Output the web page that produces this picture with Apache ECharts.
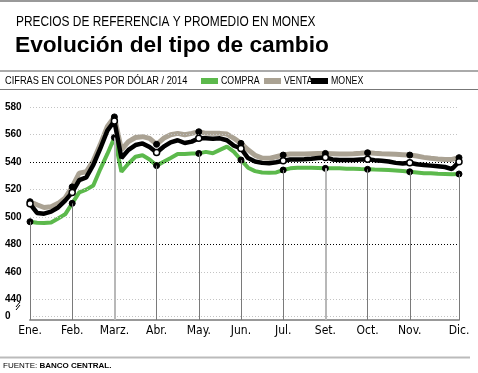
<!DOCTYPE html>
<html><head><meta charset="utf-8">
<script src="https://cdn.jsdelivr.net/npm/echarts@6/dist/echarts.min.js"></script>
<style>html,body{margin:0;padding:0;background:#fff}#c{width:478px;height:373px}</style>
</head><body><div id="c"></div>
<script>
const monthLabels = ['Ene.','Feb.','Marz.','Abr.','May.','Jun.','Jul.','Set.','Oct.','Nov.','Dic.'];
const monthIndex = [0,6,12,18,24,30,36,42,48,54,61];
const compra = [496.6,495.8,495.6,496,499,502,510,518,520,523,535,546,558,
  533,539,544,545,542,537.5,540.3,543,546,546,546.4,546.4,547.5,546.5,549,551.3,547.5,541.6,
  536,533.5,532.5,532.3,532.5,534.3,535.5,536,536,536,535.8,535.5,535.5,535.5,535.3,535.3,535,
  534.8,534.6,534.5,534.3,534,533.5,533,532.5,532,531.9,531.5,531.4,531.2,531.4];
const venta = [511.2,509,507,507.5,510,514,522,532,533,541,553,566,573,
  549,555,558,558.6,557.4,553,557.4,560,561,560,561,562.2,561,561,561,560.5,557.4,553.7,
  549,545,543,542.8,544,545.2,546,546,546,546.2,546.4,546.4,546.2,546,546,546.2,546.5,
  546.9,546.5,546.2,546,545.8,545.5,545.2,544.5,543.5,542.8,542.3,542,542,543.3];
const monex = [509.7,503,502.5,504,507,512,518,527,529,538,550,563,570,
  543,549,552.5,553.7,551,547,551.3,554.5,556,554,555,557.4,557.4,557,557.4,556,552,550,
  543,540.5,539.5,539.2,540,541.1,542,542,542.2,542.5,543,543.5,542,541.6,541.6,541.6,542,
  542.1,541.5,541.1,540.5,539.5,539,539.6,538.5,538,537.5,537,536.5,535,540.3];
const yTicks = [428,440,460,480,500,520,540,560,580];
const yMin = 425, yMax = 580;
const seriesNames = ['COMPRA','VENTA','MONEX'];

const categories = compra.map((_, i) => {
  const k = monthIndex.indexOf(i);
  return k >= 0 ? monthLabels[k] : '';
});
const isMonth = (i) => monthIndex.indexOf(i) >= 0;
const GREEN = '#5cb94c', GREY = '#aaa293', BLACK = '#000';
const SANS = '"Liberation Sans",Arial,sans-serif';
const COND = '"DejaVu Sans Condensed","Liberation Sans",sans-serif';

const gridLines = yTicks.map(v => ({
  yAxis: v,
  lineStyle: (v === 540 || v === 480)
    ? {color:'#000', type:[1,2], width:1}
    : {color:'#c4c4c4', type:[1,2], width:1}
}));
const dropLines = monthIndex.map(i => {
  const light = (i === 12 || i === 42);
  return [
    {coord:[i, yMin], lineStyle: light ? {color:'#b8b8b8', width:2, type:'solid'} : {color:'#7a7a7a', width:1, type:'solid'}},
    {coord:[i, compra[i]]}
  ];
});

const legendColors = [GREEN, GREY, BLACK];
const legendX = [201, 264, 311];
const legendGraphics = [];
seriesNames.forEach((n, k) => {
  legendGraphics.push({type:'rect', shape:{x:legendX[k], y:78, width:17, height:6}, style:{fill:legendColors[k]}});
  legendGraphics.push({type:'text', x:legendX[k]+20, y:75, scaleX:0.8, style:{text:n, font:'11px '+SANS, fill:'#000'}});
});

const chart = echarts.init(document.getElementById('c'), null, {renderer:'canvas'});
chart.setOption({
  animation:false,
  backgroundColor:'#fff',
  grid:{left:30, right:19, top:107.3, bottom:53},
  graphic:[
    {type:'line', shape:{x1:0,y1:1,x2:478,y2:1}, style:{stroke:'#999', lineWidth:2}},
    {type:'text', x:16, y:15, scaleX:0.85, style:{text:'PRECIOS DE REFERENCIA Y PROMEDIO EN MONEX', font:'14px '+SANS, fill:'#000'}},
    {type:'text', x:15, y:34, style:{text:'Evolución del tipo de cambio', font:'bold 22.7px '+SANS, fill:'#000'}},
    {type:'line', shape:{x1:0,y1:71,x2:478,y2:71}, style:{stroke:'#aaa', lineWidth:2}},
    {type:'text', x:5, y:75, scaleX:0.84, style:{text:'CIFRAS EN COLONES POR DÓLAR / 2014', font:'11px '+SANS, fill:'#000'}},
    {type:'line', shape:{x1:0,y1:89.5,x2:478,y2:89.5}, style:{stroke:'#777', lineWidth:1}},
    {type:'line', shape:{x1:16,y1:307,x2:20,y2:302}, style:{stroke:'#000', lineWidth:1}},
    {type:'line', shape:{x1:16,y1:310,x2:20,y2:305}, style:{stroke:'#000', lineWidth:1}},
    {type:'line', shape:{x1:0,y1:357.5,x2:470,y2:357.5}, style:{stroke:'#bbb', lineWidth:2}},
    {type:'text', x:3, y:362, style:{rich:{a:{font:'8px '+SANS, fill:'#000'}, b:{font:'bold 8px '+SANS, fill:'#000'}}, text:'{a|FUENTE: }{b|BANCO CENTRAL.}'}}
  ].concat(legendGraphics),
  xAxis:{
    type:'category', data:categories, boundaryGap:false,
    axisLine:{lineStyle:{color:'#999', width:2}},
    axisTick:{show:false},
    splitLine:{show:false},
    axisLabel:{interval:0, margin:5, fontFamily:COND, fontSize:12, color:'#000'}
  },
  yAxis:{
    type:'value', min:yMin, max:yMax,
    axisLine:{show:false}, axisTick:{show:false}, splitLine:{show:false},
    axisLabel:{customValues:yTicks, align:'left', margin:25, fontWeight:'bold', fontSize:10,
      fontFamily:SANS, color:'#000',
      formatter:(v)=> v < 430 ? '0' : String(v)}
  },
  series:[
    {type:'line', name:'grid', data:[], z:1, silent:true,
      markLine:{silent:true, symbol:'none', label:{show:false}, animation:false, data:gridLines}},
    {type:'line', name:'drops', data:[], z:1, silent:true,
      markLine:{silent:true, symbol:'none', label:{show:false}, animation:false, data:dropLines}},
    {type:'line', name:'COMPRA', data:compra, z:3,
      lineStyle:{color:GREEN, width:4}, itemStyle:{color:BLACK, borderColor:BLACK, borderWidth:1},
      symbol:(v,p)=> isMonth(p.dataIndex) ? 'circle' : 'none', symbolSize:6, showAllSymbol:true},
    {type:'line', name:'VENTA', data:venta, z:4,
      lineStyle:{color:GREY, width:5}, itemStyle:{color:BLACK, borderColor:BLACK, borderWidth:1},
      symbol:(v,p)=> isMonth(p.dataIndex) ? 'circle' : 'none', symbolSize:6, showAllSymbol:true},
    {type:'line', name:'MONEX', data:monex, z:5,
      lineStyle:{color:BLACK, width:4.5}, itemStyle:{color:'#fff', borderColor:BLACK, borderWidth:1.5},
      symbol:(v,p)=> isMonth(p.dataIndex) ? 'circle' : 'none', symbolSize:6, showAllSymbol:true}
  ]
});
</script></body></html>
